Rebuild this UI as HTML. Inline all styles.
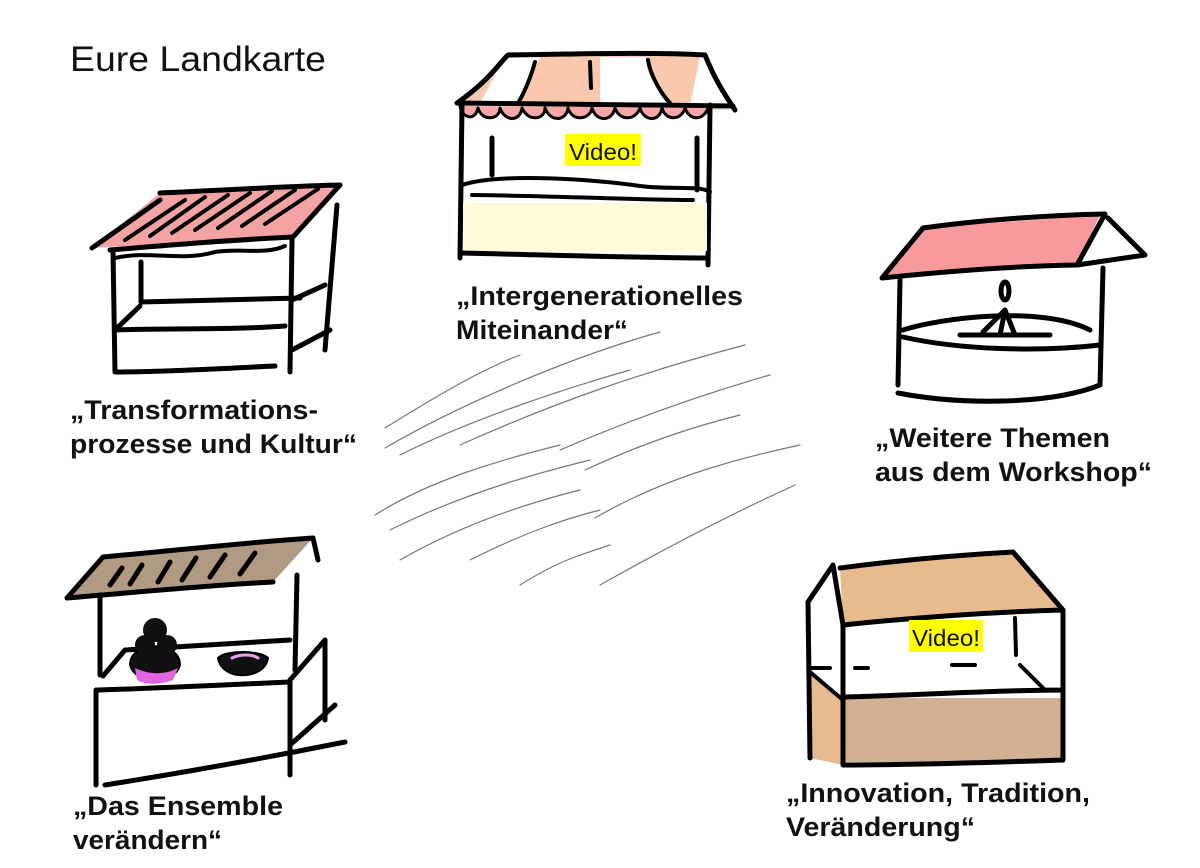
<!DOCTYPE html>
<html><head><meta charset="utf-8"><style>
html,body{margin:0;padding:0;background:#fff;}
svg{display:block;}
text{font-family:"Liberation Sans",Arial,sans-serif;}
.b{font-weight:bold;font-size:27px;fill:#111;}
</style></head><body>
<svg width="1200" height="868" viewBox="0 0 1200 868" xmlns="http://www.w3.org/2000/svg">
<g stroke="#000" stroke-linecap="round" stroke-linejoin="round" fill="none">

<!-- Stall 1 top-left -->
<polygon points="92,248 160,193 340,185 293,237" fill="#f4a3a3" stroke="none"/>
<path d="M92,248 L160,200 M160,193 C230,190 290,186 340,185 L293,237 M110,250 C170,245 230,240 293,237" stroke-width="5"/>
<g stroke-width="4">
<path d="M125,240 L185,200 M150,236 L205,197 M172,233 L228,195 M195,230 L250,193 M218,228 L272,191 M242,226 L295,190 M265,224 L318,189"/>
</g>
<path d="M115,258 C150,250 180,262 215,252 C240,248 265,255 285,246" stroke-width="4"/>
<path d="M113,250 L115,372 M141,262 L141,302 L300,298 M115,330 L140,306 M115,330 C170,328 230,330 285,326 M115,372 C170,372 230,368 275,366 M292,240 L290,372 M337,205 L325,350 M292,300 L325,285 M292,350 L330,330" stroke-width="5"/>

<!-- Stall 2 top-center -->
<polygon points="460,103 505,57 705,55 733,110" fill="#fac9ad" stroke="none"/>
<polygon points="505,57 540,57 520,103 480,103" fill="#fff" stroke="none"/>
<polygon points="600,57 645,57 670,103 600,103" fill="#fff" stroke="none"/>
<polygon points="700,57 705,55 733,110 690,105" fill="#fff" stroke="none"/>
<path d="M457,103 C490,80 500,62 508,55 C580,54 650,52 705,55 C715,80 725,95 735,110 M457,103 L733,106" stroke-width="5"/>
<path d="M535,62 C530,80 523,95 518,103 M590,62 L591,88 M648,60 C650,75 662,95 670,103" stroke-width="4"/>
<path d="M460,106 C462,118 475,122 478,108 C482,122 500,120 500,108 C505,122 520,122 522,108 C528,122 545,120 545,108 C550,122 566,122 568,108 C572,122 590,120 592,108 C596,122 612,122 615,108 C620,122 636,120 640,108 C644,122 660,122 662,108 C666,122 682,120 685,108 C690,122 704,120 708,108" fill="#f6a8a6" stroke-width="3"/>
<path d="M462,105 L460,258 M710,105 L708,265 M492,138 L492,175 M697,138 L697,190" stroke-width="5"/>
<path d="M462,185 C500,172 600,180 640,186 C670,190 700,185 710,192 M472,195 C560,196 640,200 693,200" stroke-width="4"/>
<rect x="463" y="203" width="244" height="48" fill="#fdfbd9" stroke="none"/>
<path d="M462,253 C550,255 650,258 708,258" stroke-width="5"/>
<rect x="565" y="134" width="76" height="32" fill="#ffff00" stroke="none"/>

<!-- Stall 3 right -->
<polygon points="882,278 923,228 1100,215 1077,265" fill="#f89a9c" stroke="none"/>
<path d="M882,278 L923,228 C980,220 1050,215 1105,214 L1077,265 C1010,266 940,272 882,278 M1108,218 L1145,255 L1077,265" stroke-width="5"/>
<path d="M900,280 L898,385 M1103,268 L1100,385" stroke-width="5"/>
<path d="M903,330 C940,318 1040,305 1090,330 M903,337 C960,350 1040,352 1100,345 M898,393 C960,405 1050,405 1100,385" stroke-width="5"/>
<ellipse cx="1005" cy="291" rx="4" ry="9" stroke-width="5"/>
<path d="M1005,310 L983,332 M1005,310 L1015,335 M1005,310 L1000,335 M960,335 L1050,335" stroke-width="5"/>

<!-- Stall 4 bottom-left -->
<polygon points="67,598 103,557 313,538 273,582" fill="#b09a81" stroke="none"/>
<path d="M67,598 L103,557 C180,550 250,542 313,538 L318,560 M67,598 C140,592 210,585 273,582" stroke-width="5"/>
<path d="M110,585 L122,568 M130,584 L142,565 M158,582 L170,562 M182,580 L196,558 M210,577 L225,555 M240,574 L255,553" stroke-width="5"/>
<path d="M100,595 L100,675 M297,575 L295,670 M103,676 L125,650 M125,650 C200,645 250,642 290,640 M98,690 C170,688 240,684 290,682 M96,690 L96,785 M105,785 C200,770 280,755 345,742 M290,680 L325,640 L325,720 M290,680 L290,775 M290,745 L335,705" stroke-width="5"/>
<path d="M130,665 C130,640 180,640 180,665 C175,685 135,685 130,665 Z" fill="#111" stroke-width="2"/>
<circle cx="155" cy="630" r="12" fill="#111" stroke="none"/>
<circle cx="145" cy="645" r="10" fill="#111" stroke="none"/>
<circle cx="167" cy="645" r="10" fill="#111" stroke="none"/>
<path d="M135,668 C150,675 165,675 178,668 L173,680 C160,685 145,685 137,680 Z" fill="#e066e0" stroke="none"/>
<path d="M218,658 C225,650 260,650 268,658 C265,680 222,682 218,658 Z" fill="#111" stroke-width="2"/>
<path d="M232,658 C240,654 252,654 258,658" stroke="#e9a0e9" stroke-width="3"/>

<!-- Stall 5 bottom-right -->
<polygon points="840,568 1013,552 1063,610 843,625" fill="#e8bb8e" stroke="none"/>
<polygon points="808,670 843,700 843,765 810,758" fill="#e8bb8e" stroke="none"/>
<rect x="843" y="698" width="220" height="64" fill="#d2b092" stroke="none"/>
<path d="M840,568 C900,560 960,555 1013,552 L1063,610 C990,612 910,618 843,625 M808,602 L833,565 L843,625 M808,602 L810,758 M843,625 L843,765 M1063,610 L1063,760 M845,697 C920,695 1000,690 1063,690 M843,765 C920,765 1000,762 1063,760" stroke-width="5"/>
<path d="M1015,618 L1016,655 M1020,665 L1045,690 M810,672 L843,700 M812,668 L830,668 M855,668 L868,668 M952,665 L975,665" stroke-width="4"/>
<rect x="909" y="620" width="74" height="32" fill="#ffff00" stroke="none"/>

<!-- middle hatch lines -->
<g stroke="#777" stroke-width="1.2">
<path d="M385,428 C430,400 480,370 520,355"/>
<path d="M385,448 C450,410 560,360 660,332"/>
<path d="M400,455 C470,420 560,390 630,370"/>
<path d="M460,445 C560,400 650,370 745,345"/>
<path d="M375,515 C430,480 500,460 560,445"/>
<path d="M390,530 C470,490 550,470 590,460"/>
<path d="M400,560 C470,520 540,500 580,490"/>
<path d="M560,450 C630,420 700,395 770,375"/>
<path d="M595,518 C660,480 730,460 800,445"/>
<path d="M470,560 C520,535 560,520 600,510"/>
<path d="M520,585 C560,560 580,555 610,545"/>
<path d="M600,585 C680,540 740,510 795,485"/>
<path d="M585,470 C650,440 700,425 740,415"/>
</g>
</g>

<text x="70" y="71" font-size="35" fill="#111" textLength="256" lengthAdjust="spacingAndGlyphs">Eure Landkarte</text>
<text x="569" y="160" font-size="23" fill="#111" textLength="68" lengthAdjust="spacingAndGlyphs">Video!</text>
<text x="912" y="646" font-size="23" fill="#111" textLength="68" lengthAdjust="spacingAndGlyphs">Video!</text>

<text class="b" x="456" y="305" textLength="287" lengthAdjust="spacingAndGlyphs">„Intergenerationelles</text>
<text class="b" x="456" y="339" textLength="172" lengthAdjust="spacingAndGlyphs">Miteinander“</text>
<text class="b" x="70" y="419" textLength="248" lengthAdjust="spacingAndGlyphs">„Transformations-</text>
<text class="b" x="70" y="453" textLength="287" lengthAdjust="spacingAndGlyphs">prozesse und Kultur“</text>
<text class="b" x="875" y="447" textLength="235" lengthAdjust="spacingAndGlyphs">„Weitere Themen</text>
<text class="b" x="875" y="481" textLength="277" lengthAdjust="spacingAndGlyphs">aus dem Workshop“</text>
<text class="b" x="73" y="815" textLength="210" lengthAdjust="spacingAndGlyphs">„Das Ensemble</text>
<text class="b" x="73" y="849" textLength="149" lengthAdjust="spacingAndGlyphs">verändern“</text>
<text class="b" x="786" y="802" textLength="304" lengthAdjust="spacingAndGlyphs">„Innovation, Tradition,</text>
<text class="b" x="786" y="836" textLength="189" lengthAdjust="spacingAndGlyphs">Veränderung“</text>
</svg>
</body></html>
